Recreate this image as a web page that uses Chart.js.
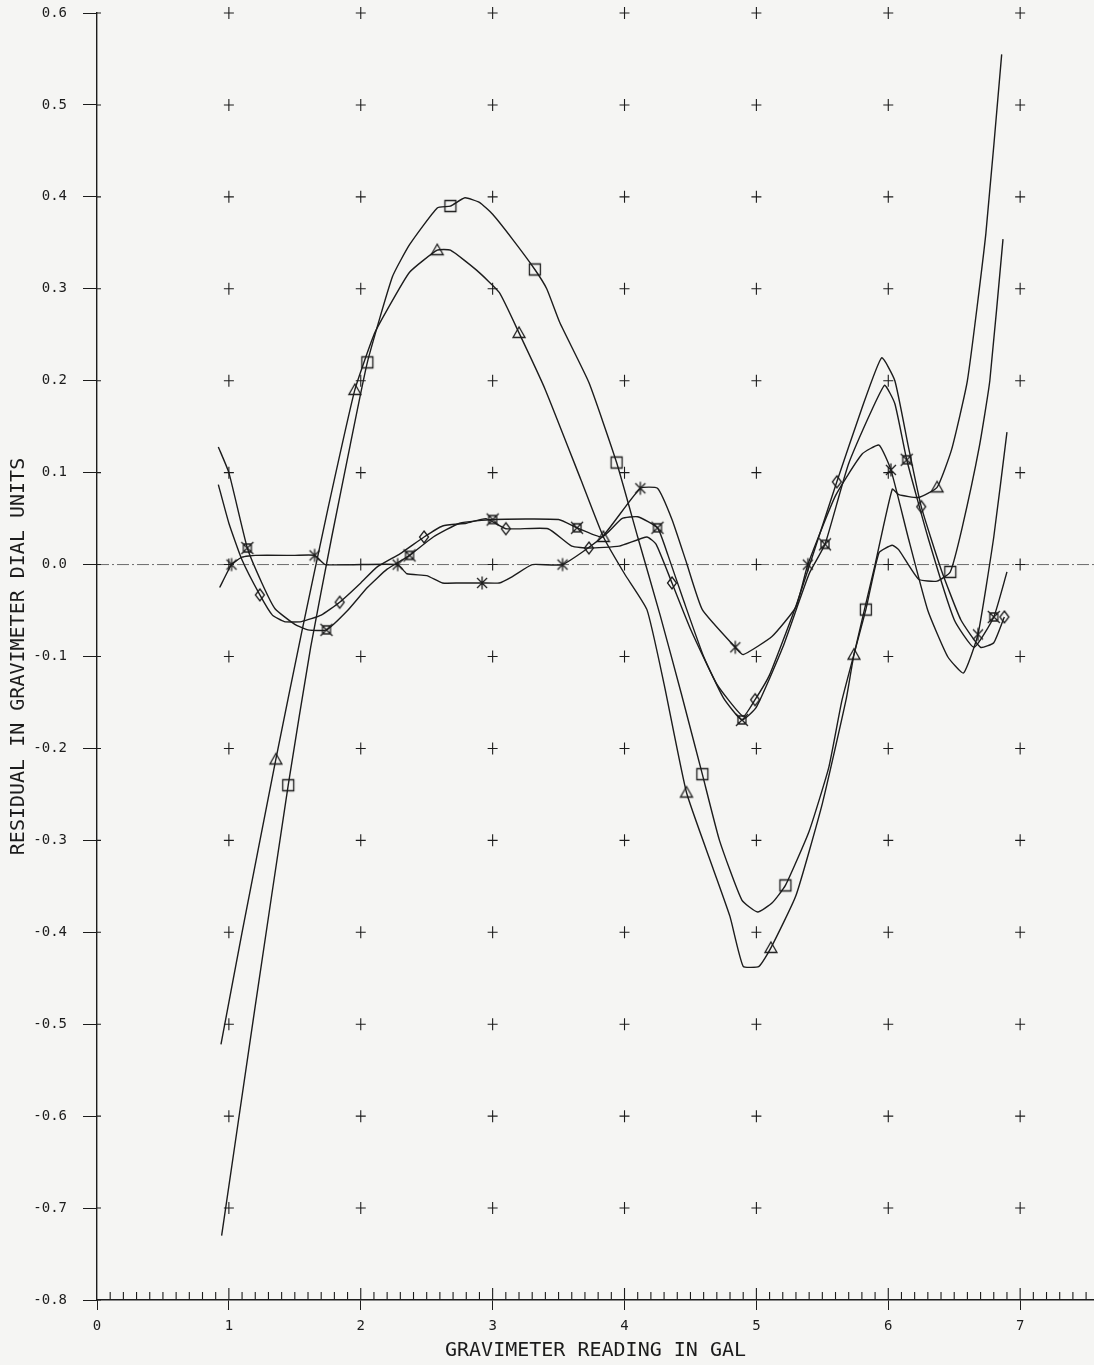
<!DOCTYPE html>
<html>
<head>
<meta charset="utf-8">
<title>Residual in gravimeter dial units</title>
<script src="https://cdn.jsdelivr.net/npm/chart.js@4.4.1/dist/chart.umd.min.js"></script>
<style>
  html, body { margin: 0; padding: 0; background: #f5f5f3; overflow: hidden; }
  #wrap { width: 1094px; height: 1365px; position: relative; }
</style>
</head>
<body>
<div id="wrap"><canvas id="chart"></canvas></div>
<script>
// ── Axis / grid values ──
const xTickValues = [0, 1, 2, 3, 4, 5, 6, 7];
const gridCols = [1, 2, 3, 4, 5, 6, 7];
const gridRows = [-0.7, -0.6, -0.5, -0.4, -0.3, -0.2, -0.1, 0.0, 0.1, 0.2, 0.3, 0.4, 0.5, 0.6];

// ── Square series ──
const sqX = [0.945, 1.2, 1.45, 1.62, 1.78, 1.92, 2.05, 2.24, 2.37, 2.58, 2.68, 2.79, 2.9, 3.0, 3.15, 3.32, 3.41, 3.51, 3.73, 3.94, 4.1, 4.27, 4.43, 4.59, 4.72, 4.89, 5.01, 5.12, 5.22, 5.4, 5.55, 5.65, 5.83, 5.93, 6.03, 6.08, 6.23, 6.37, 6.47, 6.56, 6.69, 6.77, 6.87];
const sqY = [-0.73, -0.48, -0.24, -0.09, 0.03, 0.13, 0.22, 0.313, 0.348, 0.388, 0.39, 0.399, 0.394, 0.381, 0.354, 0.321, 0.3, 0.263, 0.198, 0.111, 0.03, -0.055, -0.14, -0.228, -0.3, -0.365, -0.378, -0.368, -0.349, -0.29, -0.22, -0.147, -0.049, 0.013, 0.021, 0.016, -0.016, -0.018, -0.008, 0.04, 0.128, 0.2, 0.354];
const sqMark = [0,0,1,0,0,0,1,0,0,0,1,0,0,0,0,1,0,0,0,1,0,0,0,1,0,0,0,0,1,0,0,0,1,0,0,0,0,0,1,0,0,0,0];

// ── Triangle series ──
const triX = [0.94, 1.1, 1.356, 1.55, 1.75, 1.955, 2.1, 2.2, 2.37, 2.58, 2.68, 2.88, 3.05, 3.2, 3.4, 3.67, 3.84, 4.0, 4.17, 4.3, 4.47, 4.67, 4.8, 4.9, 5.02, 5.11, 5.3, 5.5, 5.68, 5.74, 5.9, 6.03, 6.08, 6.23, 6.37, 6.48, 6.6, 6.74, 6.86];
const triY = [-0.522, -0.4, -0.212, -0.075, 0.06, 0.19, 0.25, 0.277, 0.318, 0.342, 0.342, 0.32, 0.296, 0.252, 0.19, 0.092, 0.03, -0.01, -0.049, -0.13, -0.248, -0.33, -0.383, -0.437, -0.437, -0.417, -0.36, -0.26, -0.147, -0.098, 0.0, 0.082, 0.076, 0.073, 0.084, 0.125, 0.2, 0.36, 0.555];
const triMark = [0,0,1,0,0,1,0,0,0,1,0,0,0,1,0,0,1,0,0,0,1,0,0,0,0,1,0,0,0,1,0,0,0,0,1,0,0,0,0];

// ── Diamond series ──
const dmX = [0.92, 1.0, 1.1, 1.235, 1.33, 1.42, 1.55, 1.7, 1.84, 2.0, 2.12, 2.3, 2.48, 2.62, 2.8, 2.95, 3.1, 3.42, 3.6, 3.73, 3.96, 4.17, 4.24, 4.36, 4.5, 4.7, 4.9, 4.99, 5.1, 5.3, 5.45, 5.61, 5.8, 5.95, 6.05, 6.15, 6.25, 6.4, 6.55, 6.7, 6.8, 6.88];
const dmY = [0.087, 0.045, 0.005, -0.033, -0.055, -0.062, -0.062, -0.055, -0.041, -0.02, -0.003, 0.012, 0.03, 0.042, 0.045, 0.05, 0.039, 0.039, 0.02, 0.018, 0.02, 0.03, 0.022, -0.02, -0.07, -0.13, -0.165, -0.147, -0.12, -0.045, 0.02, 0.09, 0.17, 0.225, 0.2, 0.13, 0.063, -0.005, -0.06, -0.09, -0.085, -0.057];
const dmMark = [0,0,0,1,0,0,0,0,1,0,0,0,1,0,0,0,1,0,0,1,0,0,0,1,0,0,0,1,0,0,0,1,0,0,0,0,1,0,0,0,0,1];

// ── Crossed-square series ──
const xsX = [0.92, 1.0, 1.14, 1.25, 1.35, 1.5, 1.6, 1.74, 1.9, 2.05, 2.2, 2.37, 2.55, 2.75, 3.0, 3.5, 3.64, 3.83, 3.98, 4.1, 4.25, 4.33, 4.45, 4.6, 4.75, 4.89, 5.0, 5.2, 5.4, 5.52, 5.7, 5.97, 6.05, 6.14, 6.3, 6.5, 6.65, 6.8, 6.9];
const xsY = [0.128, 0.1, 0.018, -0.02, -0.048, -0.065, -0.071, -0.071, -0.05, -0.025, -0.005, 0.01, 0.03, 0.045, 0.049, 0.049, 0.04, 0.03, 0.05, 0.052, 0.04, 0.01, -0.04, -0.1, -0.145, -0.169, -0.155, -0.09, -0.01, 0.022, 0.11, 0.195, 0.175, 0.114, 0.03, -0.06, -0.09, -0.057, -0.008];
const xsMark = [0,0,1,0,0,0,0,1,0,0,0,1,0,0,1,0,1,0,0,0,1,0,0,0,0,1,0,0,0,1,0,0,0,1,0,0,0,1,0];

// ── Asterisk series ──
const asX = [0.93, 1.02, 1.1, 1.2, 1.5, 1.65, 1.73, 2.28, 2.35, 2.5, 2.62, 2.75, 2.92, 3.05, 3.15, 3.3, 3.53, 3.83, 4.12, 4.25, 4.36, 4.47, 4.59, 4.84, 4.9, 5.12, 5.3, 5.39, 5.6, 5.8, 5.93, 6.02, 6.15, 6.3, 6.45, 6.57, 6.68, 6.8, 6.9];
const asY = [-0.025, 0.0, 0.008, 0.01, 0.01, 0.01, 0.0, 0.0, -0.01, -0.012, -0.02, -0.02, -0.02, -0.02, -0.013, 0.0, 0.0, 0.03, 0.083, 0.083, 0.049, 0.002, -0.049, -0.09, -0.098, -0.078, -0.046, 0.0, 0.075, 0.12, 0.13, 0.103, 0.03, -0.05, -0.1, -0.118, -0.076, 0.03, 0.144];
const asMark = [0,1,0,0,0,1,0,1,0,0,0,0,1,0,0,0,1,0,1,0,0,0,0,1,0,0,0,1,0,0,0,1,0,0,0,0,1,0,0];

const INK = '#1c1c1c';
const BG = '#f5f5f3';
const monoFont = "'DejaVu Sans Mono', 'Liberation Mono', monospace";

// ── Plotter-style markers ──
function makeMarker(draw) {
  const c = document.createElement('canvas');
  c.width = 16; c.height = 16;
  const g = c.getContext('2d');
  g.strokeStyle = INK; g.lineWidth = 1.3;
  g.translate(8, 8);
  g.beginPath();
  draw(g);
  g.stroke();
  return c;
}
const mSquare = makeMarker(g => g.rect(-5.5, -5.5, 11, 11));
const mTriangle = makeMarker(g => { g.moveTo(0, -6); g.lineTo(6, 4.5); g.lineTo(-6, 4.5); g.closePath(); });
const mDiamond = makeMarker(g => { g.moveTo(0, -6); g.lineTo(4.5, 0); g.lineTo(0, 6); g.lineTo(-4.5, 0); g.closePath(); });
const mAsterisk = makeMarker(g => { g.moveTo(-5, -5); g.lineTo(5, 5); g.moveTo(5, -5); g.lineTo(-5, 5); g.moveTo(0, -6.5); g.lineTo(0, 6.5); });
const mCrossSq = makeMarker(g => { g.rect(-4, -4, 8, 8); g.moveTo(-6, -6); g.lineTo(6, 6); g.moveTo(6, -6); g.lineTo(-6, 6); });

function series(label, xs, ys, marks, marker) {
  return {
    label,
    showLine: true,
    data: xs.map((x, i) => ({ x, y: ys[i] })),
    borderColor: INK,
    borderWidth: 1.4,
    pointStyle: marker,
    pointRadius: marks.map(m => m ? 6 : 0),
    pointHoverRadius: 0,
    tension: 0.15,
    fill: false
  };
}

// ── Grid crosses, zero line, minor ticks ──
const plotterMarks = {
  id: 'plotterMarks',
  beforeDraw(chart) {
    const { ctx, width, height } = chart;
    ctx.save();
    ctx.fillStyle = BG;
    ctx.fillRect(0, 0, width, height);
    ctx.restore();
  },
  beforeDatasetsDraw(chart) {
    const { ctx, chartArea: a, scales: { x, y } } = chart;
    ctx.save();

    // zero line, dash-dot
    const y0 = y.getPixelForValue(0);
    ctx.strokeStyle = '#6a6a6a';
    ctx.lineWidth = 1;
    ctx.setLineDash([12, 3, 2, 3]);
    ctx.beginPath(); ctx.moveTo(a.left, y0); ctx.lineTo(a.right, y0); ctx.stroke();
    ctx.setLineDash([]);

    // "+" marks at every grid node
    ctx.strokeStyle = INK;
    ctx.lineWidth = 1.1;
    ctx.beginPath();
    gridCols.forEach(cx => {
      const px = x.getPixelForValue(cx);
      gridRows.forEach(ry => {
        const py = y.getPixelForValue(ry);
        ctx.moveTo(px - 5, py); ctx.lineTo(px + 5, py);
        ctx.moveTo(px, py - 6); ctx.lineTo(px, py + 6);
      });
    });

    // inner half of y ticks
    y.ticks.forEach(t => {
      const py = y.getPixelForValue(t.value);
      ctx.moveTo(a.left, py); ctx.lineTo(a.left + 4, py);
    });

    // x axis: minor ticks every 0.1, majors also rise into the plot
    const base = a.bottom;
    for (let i = 1; i / 10 <= x.max; i++) {
      const px = x.getPixelForValue(i / 10);
      const len = i % 10 === 0 ? 12 : 8;
      ctx.moveTo(px, base); ctx.lineTo(px, base - len);
    }
    ctx.stroke();
    ctx.restore();
  }
};

const tickFont = { family: monoFont, size: 14 };
const titleFont = { family: monoFont, size: 20 };

new Chart(document.getElementById('chart'), {
  type: 'scatter',
  data: {
    datasets: [
      series('square', sqX, sqY, sqMark, mSquare),
      series('triangle', triX, triY, triMark, mTriangle),
      series('diamond', dmX, dmY, dmMark, mDiamond),
      series('crossed square', xsX, xsY, xsMark, mCrossSq),
      series('asterisk', asX, asY, asMark, mAsterisk)
    ]
  },
  options: {
    responsive: true,
    maintainAspectRatio: false,
    animation: false,
    layout: { autoPadding: false, padding: { top: 13, right: 0, left: 0, bottom: 0 } },
    plugins: { legend: { display: false }, tooltip: { enabled: false } },
    scales: {
      x: {
        type: 'linear', min: 0, max: 7.56,
        afterFit: s => { s.height = 65; s.paddingLeft = 0; s.paddingRight = 0; },
        border: { color: INK, width: 1.4 },
        grid: { drawOnChartArea: false, tickLength: 10, color: INK, lineWidth: 1 },
        afterBuildTicks: s => { s.ticks = xTickValues.map(v => ({ value: v })); },
        ticks: { stepSize: 1, includeBounds: false, autoSkip: false, maxRotation: 0, color: INK, font: tickFont, padding: 8, callback: v => String(v) },
        title: { display: true, text: 'GRAVIMETER READING IN GAL', color: INK, font: titleFont, padding: { top: 0, bottom: 2 } }
      },
      y: {
        type: 'linear', min: -0.8, max: 0.6,
        afterFit: s => { s.width = 97; s.paddingTop = 0; s.paddingBottom = 0; },
        border: { color: INK, width: 1.4 },
        grid: { drawOnChartArea: false, tickLength: 14, color: INK, lineWidth: 1 },
        ticks: {
          stepSize: 0.1, autoSkip: false, color: INK, font: tickFont, padding: 16,
          callback: v => Math.abs(v) < 1e-9 ? '0.0' : Number(v).toFixed(1)
        },
        title: { display: true, text: 'RESIDUAL IN GRAVIMETER DIAL UNITS', color: INK, font: titleFont, padding: { top: 7, bottom: 0 } }
      }
    }
  },
  plugins: [plotterMarks]
});
</script>
</body>
</html>
